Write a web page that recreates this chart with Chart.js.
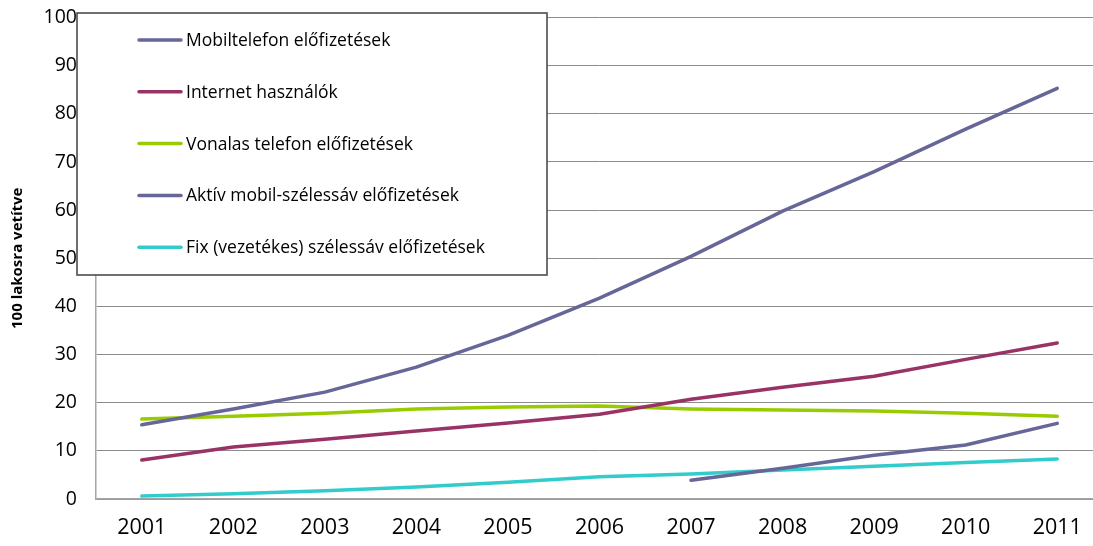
<!DOCTYPE html>
<html>
<head>
<meta charset="utf-8">
<script src="https://cdn.jsdelivr.net/npm/chart.js@4"></script>
<style>
  body { margin: 0; background: #fff; overflow: hidden; }
  #chart { display: block; }
</style>
</head>
<body>
<canvas id="chart" width="1104" height="546"></canvas>
<script>
// years on the category axis
const years = ['2001', '2002', '2003', '2004', '2005', '2006', '2007', '2008', '2009', '2010', '2011'];

const mobilePhone = [15.4, 18.7, 22.2, 27.4, 34.0, 41.7, 50.4, 59.8, 68.0, 76.8, 85.3];
const internetUsers = [8.1, 10.8, 12.4, 14.1, 15.8, 17.6, 20.7, 23.2, 25.5, 29.0, 32.4];
const fixedLine = [16.6, 17.2, 17.8, 18.7, 19.1, 19.3, 18.7, 18.5, 18.3, 17.8, 17.2];
const mobileBroadband = [null, null, null, null, null, null, 3.9, 6.4, 9.1, 11.2, 15.7];
const fixedBroadband = [0.6, 1.1, 1.7, 2.5, 3.5, 4.6, 5.2, 6.0, 6.8, 7.6, 8.3];

const yTicks = [0, 10, 20, 30, 40, 50, 60, 70, 80, 90, 100];

const fontFamily = '"Open Sans", "Noto Sans", sans-serif';

function makeLine(label, data, color) {
    return {
        label: label,
        data: data,
        borderColor: color,
        backgroundColor: color,
        borderWidth: 3.5,
        pointRadius: 0,
        tension: 0,
        spanGaps: false,
        borderCapStyle: 'round'
    };
}

// legend box drawn inside the plot, like the excel original
const boxLegend = {
    id: 'boxLegend',
    afterDraw(chart) {
        const ctx = chart.ctx;
        ctx.save();
        ctx.fillStyle = '#ffffff';
        ctx.fillRect(77, 13, 470, 262);
        ctx.strokeStyle = '#404040';
        ctx.lineWidth = 1.5;
        ctx.strokeRect(77, 13, 470, 262);
        ctx.font = '17.5px ' + fontFamily;
        ctx.textBaseline = 'middle';
        chart.data.datasets.forEach(function(ds, i) {
            const y = 40 + i * 51.8;
            ctx.strokeStyle = ds.borderColor;
            ctx.lineWidth = 3.5;
            ctx.lineCap = 'round';
            ctx.beginPath();
            ctx.moveTo(139, y);
            ctx.lineTo(181, y);
            ctx.stroke();
            ctx.fillStyle = '#000000';
            ctx.fillText(ds.label, 186, y + 1);
        });
        ctx.restore();
    }
};

const ctx = document.getElementById('chart').getContext('2d');
const chart = new Chart(ctx, {
    type: 'line',
    data: {
        labels: years,
        datasets: [
            makeLine('Mobiltelefon előfizetések', mobilePhone, '#666699'),
            makeLine('Internet használók', internetUsers, '#993366'),
            makeLine('Vonalas telefon előfizetések', fixedLine, '#99CC00'),
            makeLine('Aktív mobil-szélessáv előfizetések', mobileBroadband, '#666699'),
            makeLine('Fix (vezetékes) szélessáv előfizetések', fixedBroadband, '#33CCCC')
        ]
    },
    options: {
        responsive: false,
        devicePixelRatio: 1,
        animation: false,
        layout: { padding: { top: 17.5, right: 1, left: 0, bottom: 0 } },
        plugins: {
            legend: { display: false },
            tooltip: { enabled: false }
        },
        scales: {
            x: {
                offset: true,
                grid: { display: false, drawTicks: false },
                border: { display: true, color: '#a6a6a6', width: 1.5 },
                ticks: {
                    color: '#000',
                    padding: 16,
                    maxRotation: 0,
                    font: { family: fontFamily, size: 21.5 }
                },
                afterFit(scale) {
                    scale.height = 47;
                    scale.paddingLeft = 0;
                    scale.paddingRight = 0;
                }
            },
            y: {
                min: 0,
                max: 100,
                afterBuildTicks(scale) {
                    scale.ticks = yTicks.map(v => ({ value: v }));
                },
                grid: { color: '#8c8c8c', lineWidth: 1, drawTicks: false },
                border: { display: true, color: '#a6a6a6', width: 1.5 },
                ticks: {
                    color: '#000',
                    padding: 19,
                    font: { family: fontFamily, size: 19.5 }
                },
                title: {
                    display: true,
                    text: '100 lakosra vetítve',
                    color: '#000',
                    font: { family: fontFamily, size: 15, weight: 'bold' },
                    padding: { top: 9, bottom: 0 }
                },
                afterFit(scale) {
                    scale.width = 96;
                    scale.paddingTop = 0;
                    scale.paddingBottom = 0;
                }
            }
        }
    },
    plugins: [boxLegend]
});
</script>
</body>
</html>
